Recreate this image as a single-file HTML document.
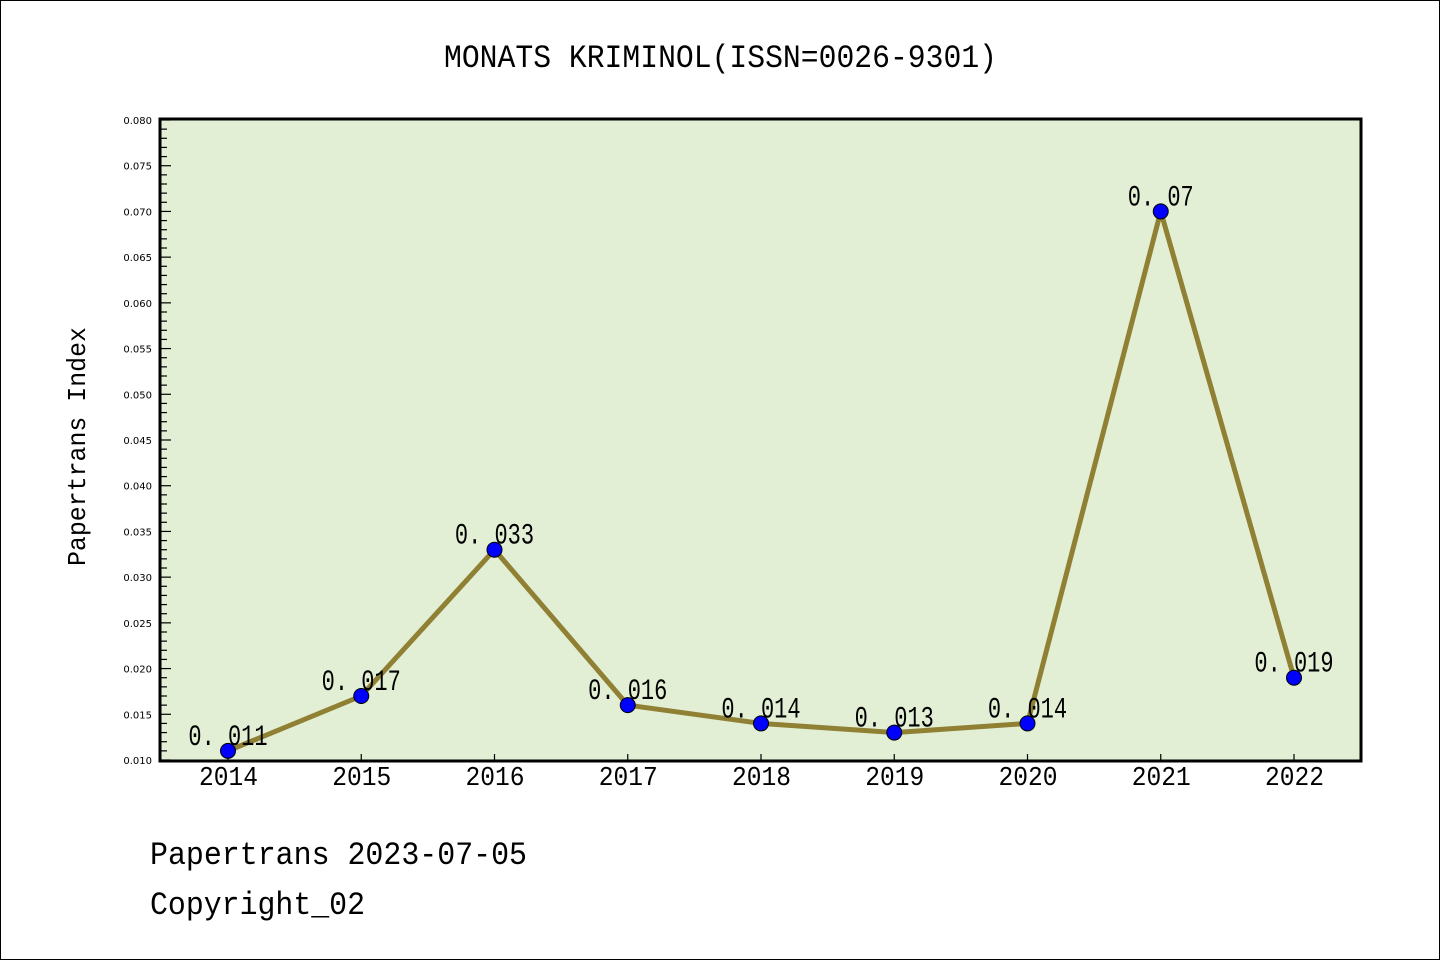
<!DOCTYPE html>
<html><head><meta charset="utf-8"><style>
html,body{margin:0;padding:0;background:#fff;}
svg text{font-family:"Liberation Mono","DejaVu Sans Mono",monospace;}
</style></head><body>
<svg id="chart" width="1440" height="960" xmlns="http://www.w3.org/2000/svg">
<rect x="0.5" y="0.5" width="1439" height="959" fill="#fff" stroke="#000" stroke-width="1"/>
<text x="444" y="67" font-size="32" textLength="553" lengthAdjust="spacingAndGlyphs">MONATS KRIMINOL(ISSN=0026-9301)</text>
<rect x="160" y="119" width="1201" height="642" fill="#e2efd5"/>
<g id="yaxis"></g>
<g id="xaxis"></g>
<g id="series"></g>
<rect x="160" y="119" width="1201" height="642" fill="none" stroke="#000" stroke-width="3"/>
<text x="0" y="0" transform="translate(85,566) rotate(-90)" font-size="26" textLength="239" lengthAdjust="spacingAndGlyphs">Papertrans Index</text>
<text x="150" y="864" font-size="32" textLength="377" lengthAdjust="spacingAndGlyphs">Papertrans 2023-07-05</text>
<text x="150" y="914" font-size="32" textLength="215" lengthAdjust="spacingAndGlyphs">Copyright_02</text>
</svg>
<script>
const years = ["2014","2015","2016","2017","2018","2019","2020","2021","2022"];
const values = [0.011,0.017,0.033,0.016,0.014,0.013,0.014,0.07,0.019];
const valueLabels = ["0.011","0.017","0.033","0.016","0.014","0.013","0.014","0.07","0.019"];
const yTicks = [0.010,0.015,0.020,0.025,0.030,0.035,0.040,0.045,0.050,0.055,0.060,0.065,0.070,0.075,0.080];
const NS="http://www.w3.org/2000/svg";
const yMin=0.010,yMax=0.080,yTop=120,yBot=760;
function ys(v){return yBot-(v-yMin)/(yMax-yMin)*(yBot-yTop);}
function xs(i){return 228+i*(1294-228)/(years.length-1);}
function mk(tag,attrs,parent){const e=document.createElementNS(NS,tag);for(const k in attrs)e.setAttribute(k,attrs[k]);parent.appendChild(e);return e;}
const ya=document.getElementById('yaxis');
for(let k=0;k<=70;k++){
  const v=yMin+k*0.001;const y=ys(v);const major=k%5===0;
  const t=mk('line',{x1:160,x2:160+(major?11:7),y1:y,y2:y,stroke:'#000','stroke-width':1.2},ya);
  
  
}
yTicks.forEach(v=>{
  const t=mk('text',{x:152,y:ys(v)+4,'font-size':10,'text-anchor':'end'},ya);
  t.style.fontFamily='"DejaVu Sans",sans-serif';
  t.textContent=v.toFixed(3);
  
  
});
const xa=document.getElementById('xaxis');
years.forEach((yr,i)=>{
  const l=mk('line',{x1:xs(i),x2:xs(i),y1:761,y2:754,stroke:'#000','stroke-width':1.2},xa);
  
  
  const t=mk('text',{x:xs(i)-29,y:785,'font-size':27,textLength:59,lengthAdjust:'spacingAndGlyphs'},xa);
  t.textContent=yr;
  
  
});
const sg=document.getElementById('series');
const pts=values.map((v,i)=>xs(i)+','+ys(v)).join(' ');
const pl=mk('polyline',{points:pts,fill:'none',stroke:'#8f8033','stroke-width':5,'stroke-linejoin':'round'},sg);


values.forEach((v,i)=>{
  const c=mk('circle',{cx:xs(i),cy:ys(v),r:7.5,fill:'#0000ff',stroke:'#000','stroke-width':1},sg);
  
  
  const lab=valueLabels[i].replace('.','. ');
  const w=lab.length*13.2;
  const t=mk('text',{x:xs(i)-w/2,y:ys(v)-6,'font-size':30,textLength:w,lengthAdjust:'spacingAndGlyphs'},sg);
  t.textContent=lab;
  
  
});
</script>
</body></html>
